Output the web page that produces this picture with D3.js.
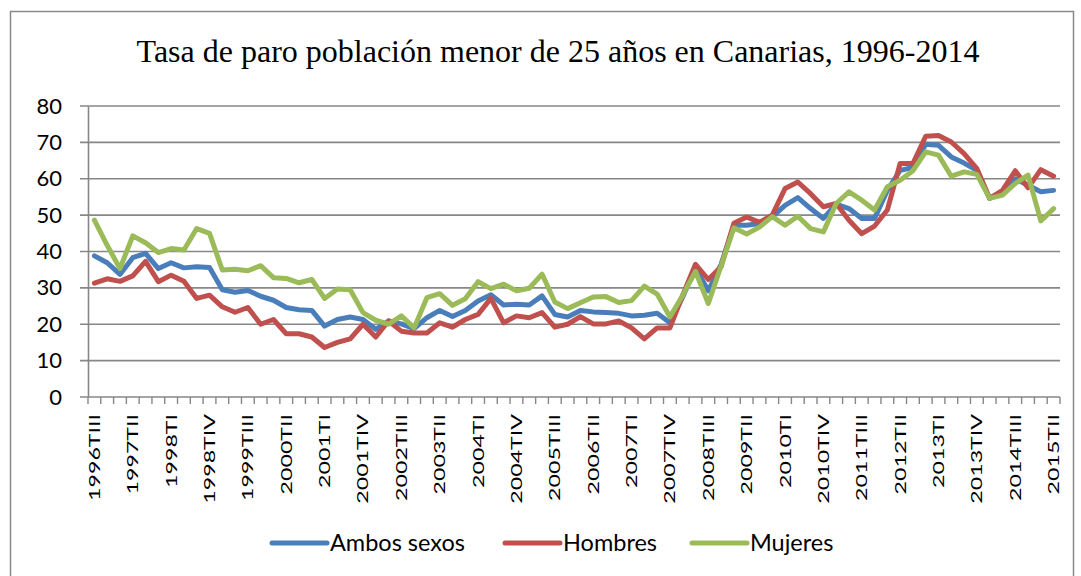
<!DOCTYPE html>
<html>
<head>
<meta charset="utf-8">
<script src="https://cdn.jsdelivr.net/npm/d3@7"></script>
<style>
  body { margin: 0; background: #fff; }
  svg { display: block; }
</style>
</head>
<body>
<svg id="chart" width="1081" height="576"></svg>
<script>
// trimestres 1996TIII .. 2015TII
const years = d3.range(1996, 2016)
const quarters = ["TI", "TII", "TIII", "TIV"]
const periods = years.flatMap(y => quarters.map(q => y + q)).slice(2, 78)

const ambos = [38.8, 36.9, 33.7, 38.3, 39.5, 35.3, 36.9, 35.5, 35.8, 35.6,
  29.5, 28.8, 29.3, 27.7, 26.6, 24.6, 24.0, 23.8, 19.5, 21.3,
  22.0, 21.3, 18.6, 20.9, 20.1, 18.8, 21.8, 23.8, 22.1, 23.8,
  26.4, 28.1, 25.3, 25.5, 25.3, 27.8, 22.7, 22.0, 23.8, 23.4,
  23.2, 23.0, 22.3, 22.5, 23.0, 20.4, 27.5, 35.5, 29.2, 36.5,
  47.2, 47.2, 47.7, 49.5, 52.7, 54.8, 51.8, 49.1, 53.0, 51.8,
  49.1, 49.1, 56.8, 62.3, 63.1, 69.5, 69.2, 66.0, 64.3, 62.3,
  54.6, 56.4, 60.0, 58.2, 56.4, 56.8]

const hombres = [31.3, 32.5, 31.8, 33.3, 37.3, 31.7, 33.5, 31.8, 27.1, 28.0,
  24.8, 23.3, 24.6, 20.0, 21.3, 17.4, 17.4, 16.5, 13.6, 15.0,
  16.0, 20.0, 16.5, 20.9, 18.1, 17.6, 17.6, 20.4, 19.2, 21.3,
  22.7, 27.1, 20.4, 22.3, 21.8, 23.2, 19.2, 20.0, 22.1, 20.1,
  20.1, 20.9, 19.0, 16.0, 19.0, 19.0, 28.0, 36.5, 32.3, 35.8,
  47.8, 49.5, 48.0, 50.0, 57.3, 59.1, 55.9, 52.3, 53.2, 48.6,
  44.9, 47.0, 51.4, 64.2, 64.2, 71.7, 71.9, 70.1, 66.9, 62.8,
  54.6, 56.8, 62.2, 57.5, 62.5, 60.7]

const mujeres = [48.6, 41.7, 35.3, 44.3, 42.4, 39.7, 40.8, 40.4, 46.3, 45.0,
  34.9, 35.1, 34.7, 36.1, 32.8, 32.6, 31.4, 32.3, 27.1, 29.7,
  29.5, 23.2, 21.1, 20.0, 22.3, 19.0, 27.3, 28.4, 25.2, 27.0,
  31.7, 29.8, 31.0, 29.2, 29.9, 33.8, 26.1, 24.3, 25.9, 27.5,
  27.6, 26.0, 26.5, 30.5, 28.3, 22.0, 28.0, 34.5, 25.7, 36.0,
  46.5, 44.8, 46.7, 49.6, 47.2, 49.7, 46.3, 45.4, 53.2, 56.4,
  54.1, 51.4, 57.8, 59.6, 62.2, 67.4, 66.5, 60.7, 61.9, 61.2,
  54.6, 55.5, 58.7, 61.0, 48.4, 51.8]

const seriesNames = ["Ambos sexos", "Hombres", "Mujeres"]
const seriesColors = ["#4a7ebb", "#c0504d", "#9bbb59"]
const yTicks = [0, 10, 20, 30, 40, 50, 60, 70, 80]

const title = "Tasa de paro población menor de 25 años en Canarias, 1996-2014"

const series = [ambos, hombres, mujeres].map((values, k) => ({
  name: seriesNames[k],
  color: seriesColors[k],
  values
}))

const svg = d3.select("svg#chart")
const plotLeft = 88, plotRight = 1060, plotTop = 106, plotBottom = 397
const gridColor = "#878787"

// marco exterior
svg.append("rect")
  .attr("x", 10.5).attr("y", 11.5)
  .attr("width", 1063).attr("height", 590)
  .attr("fill", "none")
  .attr("stroke", "#8a8a8a")
  .attr("stroke-width", 1.5)

svg.append("text")
  .attr("x", 558).attr("y", 62)
  .attr("text-anchor", "middle")
  .attr("font-family", "'Liberation Serif', 'Times New Roman', serif")
  .attr("font-size", 32)
  .attr("fill", "#000")
  .text(title)

const x = d3.scaleBand().domain(periods).range([plotLeft, plotRight])
const cx = d => x(d) + x.bandwidth() / 2
const y = d3.scaleLinear().domain([0, 80]).range([plotBottom, plotTop])

// rejilla
svg.append("g")
  .selectAll("line")
  .data(yTicks)
  .join("line")
    .attr("x1", plotLeft - 8).attr("x2", plotRight)
    .attr("y1", d => y(d)).attr("y2", d => y(d))
    .attr("stroke", gridColor)
    .attr("stroke-width", 1.6)

// eje Y
const yAxis = svg.append("g")
  .attr("transform", `translate(${plotLeft},0)`)
  .call(d3.axisLeft(y).tickValues(yTicks).tickSize(0).tickPadding(26))
yAxis.select(".domain")
  .attr("stroke", gridColor).attr("stroke-width", 1.6)
yAxis.selectAll("text")
  .attr("font-family", "Lato, sans-serif")
  .attr("font-size", 22)
  .attr("fill", "#000")

// eje X: marcas entre categorias
const xAxis = svg.append("g")
  .attr("transform", `translate(0,${plotBottom})`)
  .call(d3.axisBottom(x).tickValues([]).tickSizeOuter(0))
xAxis.select(".domain").remove()
xAxis.append("g")
  .selectAll("line")
  .data(periods.concat([null]))
  .join("line")
    .attr("x1", d => d === null ? plotRight : x(d))
    .attr("x2", d => d === null ? plotRight : x(d))
    .attr("y1", 0).attr("y2", 7)
    .attr("stroke", gridColor)
    .attr("stroke-width", 1.4)

xAxis.append("g")
  .selectAll("text")
  .data(periods.filter((d, i) => i % 3 === 0))
  .join("text")
    .attr("transform", d => `translate(${cx(d) + 5.5},17) rotate(-90) scale(1.45,1)`)
    .attr("text-anchor", "end")
    .attr("font-family", "Lato, sans-serif")
    .attr("font-size", 16)
    .attr("fill", "#000")
    .text(d => d)

// lineas
const line = d3.line()
  .x((d, i) => cx(periods[i]))
  .y(d => y(d))

svg.append("g")
  .selectAll("path")
  .data(series)
  .join("path")
    .attr("d", d => line(d.values))
    .attr("fill", "none")
    .attr("stroke", d => d.color)
    .attr("stroke-width", 5)
    .attr("stroke-linejoin", "round")
    .attr("stroke-linecap", "round")

// leyenda
const legendX = [272, 505, 692]
const legend = svg.append("g")
  .selectAll("g")
  .data(series)
  .join("g")
    .attr("transform", (d, i) => `translate(${legendX[i]},543)`)
legend.append("line")
  .attr("x1", 0).attr("x2", 55)
  .attr("stroke", d => d.color)
  .attr("stroke-width", 5)
  .attr("stroke-linecap", "round")
legend.append("text")
  .attr("x", 58).attr("y", 0)
  .attr("dy", "0.36em")
  .attr("font-family", "Lato, sans-serif")
  .attr("font-size", 23.5)
  .attr("fill", "#000")
  .text(d => d.name)
</script>
</body>
</html>
